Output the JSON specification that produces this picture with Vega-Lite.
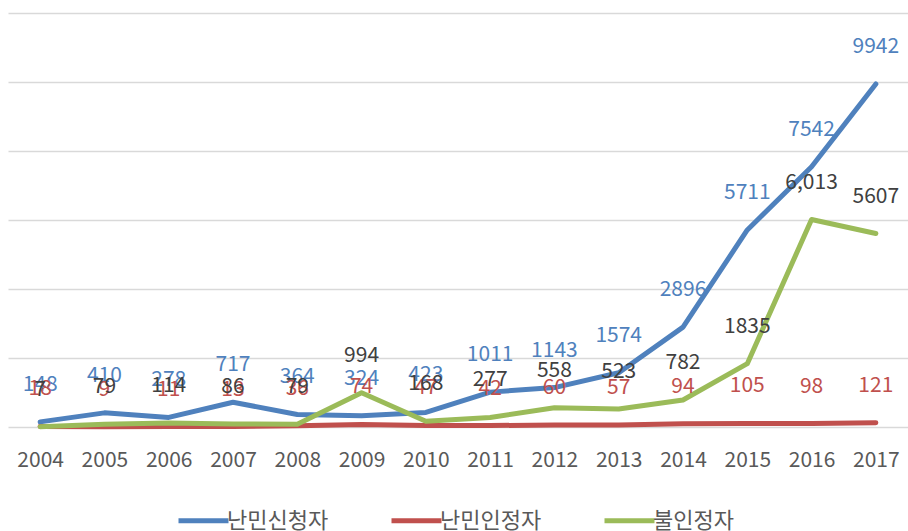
{
  "$schema": "https://vega.github.io/schema/vega-lite/v6.json",
  "autosize": {"type": "none"},
  "padding": {"left": 8, "top": 13, "right": 0, "bottom": 104},
  "width": 900,
  "height": 414,
  "background": "white",
  "config": {
    "view": {"stroke": null},
    "font": "Noto Sans CJK KR"
  },
  "data": {
    "values": [
      {"year": "2004", "series": "난민신청자", "value": 148, "label": "148"},
      {"year": "2005", "series": "난민신청자", "value": 410, "label": "410"},
      {"year": "2006", "series": "난민신청자", "value": 278, "label": "278"},
      {"year": "2007", "series": "난민신청자", "value": 717, "label": "717"},
      {"year": "2008", "series": "난민신청자", "value": 364, "label": "364"},
      {"year": "2009", "series": "난민신청자", "value": 324, "label": "324"},
      {"year": "2010", "series": "난민신청자", "value": 423, "label": "423"},
      {"year": "2011", "series": "난민신청자", "value": 1011, "label": "1011"},
      {"year": "2012", "series": "난민신청자", "value": 1143, "label": "1143"},
      {"year": "2013", "series": "난민신청자", "value": 1574, "label": "1574"},
      {"year": "2014", "series": "난민신청자", "value": 2896, "label": "2896"},
      {"year": "2015", "series": "난민신청자", "value": 5711, "label": "5711"},
      {"year": "2016", "series": "난민신청자", "value": 7542, "label": "7542"},
      {"year": "2017", "series": "난민신청자", "value": 9942, "label": "9942"},
      {"year": "2004", "series": "난민인정자", "value": 18, "label": "18"},
      {"year": "2005", "series": "난민인정자", "value": 9, "label": "9"},
      {"year": "2006", "series": "난민인정자", "value": 11, "label": "11"},
      {"year": "2007", "series": "난민인정자", "value": 13, "label": "13"},
      {"year": "2008", "series": "난민인정자", "value": 36, "label": "36"},
      {"year": "2009", "series": "난민인정자", "value": 74, "label": "74"},
      {"year": "2010", "series": "난민인정자", "value": 47, "label": "47"},
      {"year": "2011", "series": "난민인정자", "value": 42, "label": "42"},
      {"year": "2012", "series": "난민인정자", "value": 60, "label": "60"},
      {"year": "2013", "series": "난민인정자", "value": 57, "label": "57"},
      {"year": "2014", "series": "난민인정자", "value": 94, "label": "94"},
      {"year": "2015", "series": "난민인정자", "value": 105, "label": "105"},
      {"year": "2016", "series": "난민인정자", "value": 98, "label": "98"},
      {"year": "2017", "series": "난민인정자", "value": 121, "label": "121"},
      {"year": "2004", "series": "불인정자", "value": 7, "label": "7"},
      {"year": "2005", "series": "불인정자", "value": 79, "label": "79"},
      {"year": "2006", "series": "불인정자", "value": 114, "label": "114"},
      {"year": "2007", "series": "불인정자", "value": 86, "label": "86"},
      {"year": "2008", "series": "불인정자", "value": 79, "label": "79"},
      {"year": "2009", "series": "불인정자", "value": 994, "label": "994"},
      {"year": "2010", "series": "불인정자", "value": 168, "label": "168"},
      {"year": "2011", "series": "불인정자", "value": 277, "label": "277"},
      {"year": "2012", "series": "불인정자", "value": 558, "label": "558"},
      {"year": "2013", "series": "불인정자", "value": 523, "label": "523"},
      {"year": "2014", "series": "불인정자", "value": 782, "label": "782"},
      {"year": "2015", "series": "불인정자", "value": 1835, "label": "1835"},
      {"year": "2016", "series": "불인정자", "value": 6013, "label": "6,013"},
      {"year": "2017", "series": "불인정자", "value": 5607, "label": "5607"}
    ]
  },
  "encoding": {
    "x": {
      "field": "year",
      "type": "ordinal",
      "scale": {"type": "point", "padding": 0.5},
      "axis": {
        "title": null,
        "labelAngle": 0,
        "domain": false,
        "ticks": false,
        "labelColor": "#595959",
        "labelFontSize": 21,
        "labelPadding": 22,
        "labelFont": "Noto Sans CJK KR"
      }
    },
    "y": {
      "field": "value",
      "type": "quantitative",
      "scale": {"domain": [0, 12000], "nice": false},
      "axis": {
        "title": null,
        "labels": false,
        "ticks": false,
        "domain": false,
        "values": [0, 2000, 4000, 6000, 8000, 10000, 12000],
        "gridColor": "#d9d9d9",
        "gridWidth": 1.5
      }
    }
  },
  "layer": [
    {
      "mark": {"type": "line", "strokeWidth": 5, "strokeCap": "round", "strokeJoin": "round"},
      "encoding": {
        "color": {
          "field": "series",
          "type": "nominal",
          "scale": {"domain": ["난민신청자", "난민인정자", "불인정자"], "range": ["#4F81BD", "#C0504D", "#9BBB59"]},
          "legend": {
            "title": null,
            "orient": "none",
            "legendX": 168,
            "legendY": 480,
            "direction": "horizontal",
            "symbolType": "stroke",
            "symbolSize": 2500,
            "symbolStrokeWidth": 5,
            "labelFontSize": 22,
            "labelColor": "#595959",
            "labelFont": "Noto Sans CJK KR",
            "columnPadding": 52,
            "labelOffset": -4
          }
        }
      }
    },
    {
      "mark": {"type": "text", "dy": -37, "fontSize": 21, "font": "Noto Sans CJK KR"},
      "encoding": {
        "text": {"field": "label", "type": "nominal"},
        "color": {
          "field": "series",
          "type": "nominal",
          "scale": {"domain": ["난민신청자", "난민인정자", "불인정자"], "range": ["#4F81BD", "#C0504D", "#404040"]},
          "legend": null
        }
      }
    }
  ],
  "resolve": {"scale": {"color": "independent"}}
}
